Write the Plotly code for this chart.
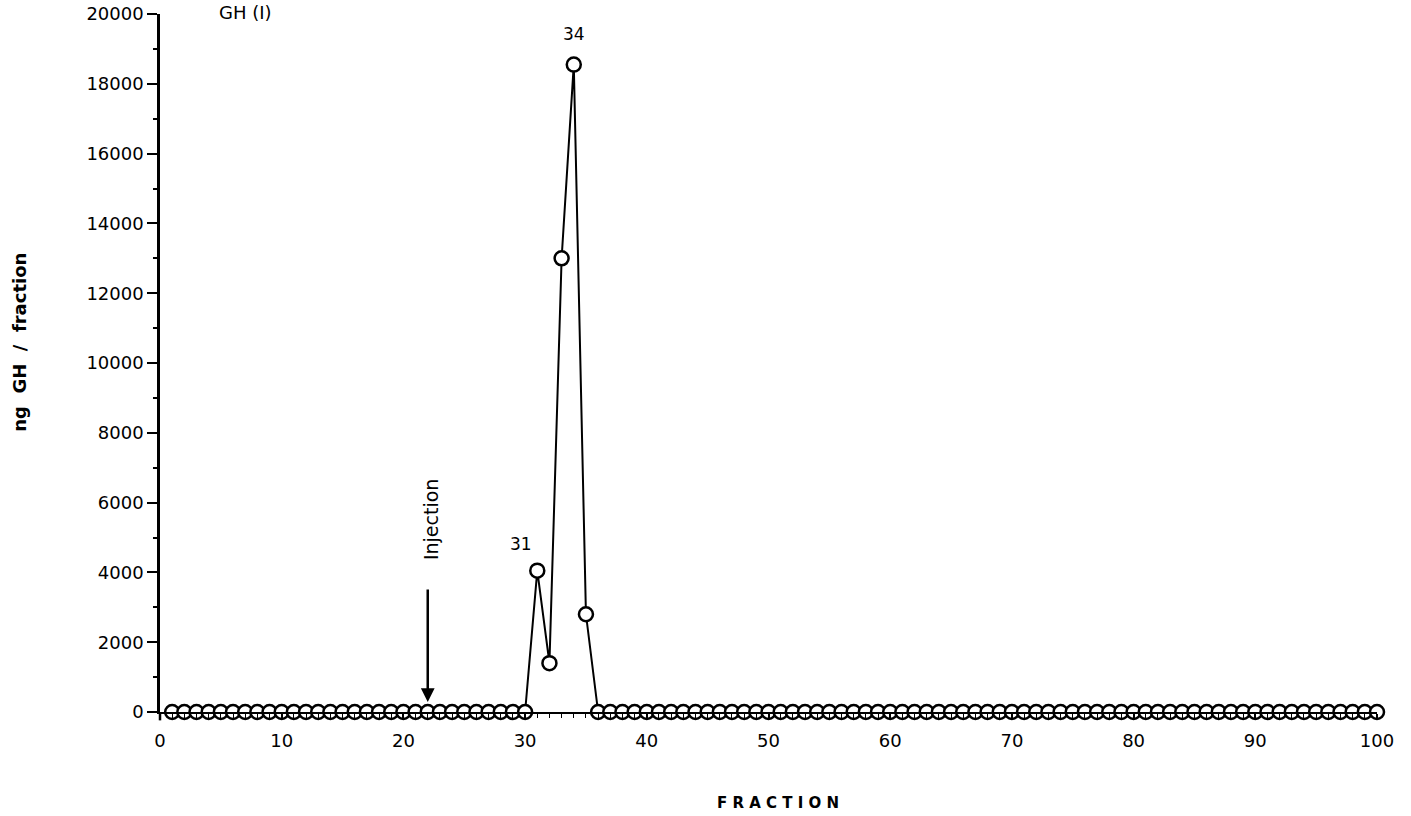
import plotly.graph_objects as go

fractions = list(range(1, 101))
peak_fractions = [31, 32, 33, 34, 35]
peak_values = [4050, 1400, 13000, 18550, 2800]
ng_gh = [0.0] * len(fractions)
for f, v in zip(peak_fractions, peak_values):
    ng_gh[f - 1] = v

x_ticks = [0, 10, 20, 30, 40, 50, 60, 70, 80, 90, 100]
y_ticks = [0, 2000, 4000, 6000, 8000, 10000, 12000, 14000, 16000, 18000, 20000]
injection_fraction = 22

FONT = "DejaVu Sans, Liberation Sans, Arial, sans-serif"

fig = go.Figure()
fig.add_trace(go.Scatter(
    x=fractions, y=ng_gh, mode="lines+markers",
    line=dict(color="black", width=2),
    marker=dict(symbol="circle", size=14, color="white",
                line=dict(color="black", width=2.5)),
    cliponaxis=False, showlegend=False,
))

fig.update_layout(
    width=1411, height=816,
    margin=dict(l=160, r=34, t=14, b=104),
    paper_bgcolor="white", plot_bgcolor="white",
    font=dict(family=FONT, color="black", size=16),
    xaxis=dict(
        range=[0, 100], tickvals=x_ticks, ticktext=[str(v) for v in x_ticks],
        showgrid=False, zeroline=False, showline=True, linecolor="black", linewidth=2,
        ticks="outside", ticklen=6, tickwidth=2, tickcolor="black",
        minor=dict(dtick=1, tick0=0, ticks="outside", ticklen=4, tickwidth=1, tickcolor="black"),
        tickfont=dict(size=18), automargin=False, ticklabelstandoff=5,
        ticklabeloverflow="allow",
    ),
    yaxis=dict(
        range=[0, 20000], tickvals=y_ticks, ticktext=[str(v) for v in y_ticks],
        showgrid=False, zeroline=False, showline=True, linecolor="black", linewidth=2.5,
        ticks="outside", ticklen=10, tickwidth=2, tickcolor="black",
        minor=dict(dtick=1000, tick0=0, ticks="outside", ticklen=4, tickwidth=2, tickcolor="black"),
        tickfont=dict(size=18), automargin=False, ticklabeloverflow="allow",
    ),
)

# small downward extension of the y-axis line below zero
fig.add_shape(type="line", xref="paper", yref="paper", x0=0, x1=0, y0=0, y1=-0.012,
              line=dict(color="black", width=2.5))

# axis titles
fig.add_annotation(xref="paper", yref="paper", x=0.508, y=-0.130, xanchor="center", yanchor="middle",
                   text="<b>F R A C T I O N</b>", showarrow=False, font=dict(size=15))
fig.add_annotation(xref="paper", yref="paper", x=-0.115, y=0.529, xanchor="center", yanchor="middle",
                   text="<b>ng  GH  /  fraction</b>", textangle=-90, showarrow=False,
                   font=dict(size=18))

# peak labels
fig.add_annotation(x=34, y=18550, text="34", showarrow=False, yshift=31,
                   font=dict(size=17))
fig.add_annotation(x=31, y=4050, text="31", showarrow=False, xshift=-16, yshift=27,
                   font=dict(size=17))

# injection arrow and label
fig.add_annotation(x=injection_fraction, y=290, ax=injection_fraction, ay=3550,
                   axref="x", ayref="y", xref="x", yref="y", text="",
                   showarrow=True, arrowhead=2, arrowsize=1.1, arrowwidth=2.5,
                   arrowcolor="black")
fig.add_annotation(x=injection_fraction, y=5520, text="Injection", textangle=-90,
                   showarrow=False, font=dict(size=19), xshift=4)

# panel title at the top
fig.add_annotation(xref="paper", yref="paper", x=0.07, y=1.02,
                   xanchor="center", yanchor="top", text="GH (I)",
                   showarrow=False, font=dict(size=18))

fig.write_html("out.html", config={"displayModeBar": False},
               post_script="document.body.style.margin='0';")
